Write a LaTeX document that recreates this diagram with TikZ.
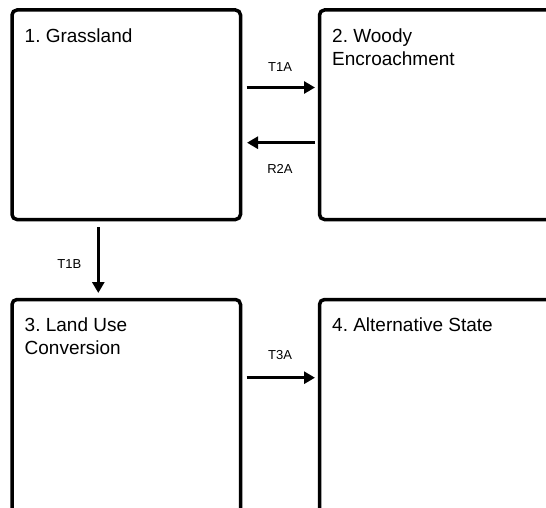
\documentclass[tikz,border=0pt]{standalone}
\usepackage{fontspec}
\setmainfont{Liberation Sans}
\usetikzlibrary{arrows.meta}

\tikzset{
  statebox/.style={draw, line width=3.5pt, rounded corners=5pt, outer sep=0pt,
    anchor=north west, minimum width=228.5pt},
  statename/.style={anchor=north west, align=left, inner sep=0pt,
    font=\fontsize{19}{23}\selectfont},
  trans/.style={line width=3.5pt, -{Triangle[length=11pt,width=12pt]}},
  translabel/.style={font=\fontsize{13}{15}\selectfont, inner sep=0pt},
}

\begin{document}
\frenchspacing
\begin{tikzpicture}[x=1pt,y=-1pt]
  \useasboundingbox (0,0) rectangle (546,508);
  \begin{scope}
    \clip (0,0) rectangle (546,508);
    % states
    \node[statebox, minimum height=209.5pt] (s1) at (12,10) {};
    \node[statebox, minimum width=260pt, minimum height=209.5pt] (s2) at (319.5,10) {};
    \node[statebox, minimum height=240pt] (s3) at (12,299.5) {};
    \node[statebox, minimum width=260pt, minimum height=240pt] (s4) at (319.5,299.5) {};
  \end{scope}

  \node[statename] (n1) at ([xshift=12.5pt,yshift=-18.5pt]s1.north west) {1. Grassland};
  \node[statename] (n2) at ([xshift=12.5pt,yshift=-18.5pt]s2.north west) {2. Woody\\Encroachment};
  \node[statename] (n3) at ([xshift=12.5pt,yshift=-18.5pt]s3.north west) {3. Land Use\\Conversion};
  \node[statename] (n4) at ([xshift=12.5pt,yshift=-18.5pt]s4.north west) {4. Alternative State};

  % transitions
  \draw[trans, shorten <=6pt, shorten >=4.5pt]
    ([yshift=-77.5pt]s1.north east) -- node[translabel, yshift=20pt] (l1) {T1A}
    ([yshift=-77.5pt]s2.north west);
  \draw[trans, shorten <=4.5pt, shorten >=6.5pt]
    ([yshift=-132.7pt]s2.north west) -- node[translabel, yshift=-26pt] (l2) {R2A}
    ([yshift=-132.7pt]s1.north east);
  \draw[trans, shorten <=7.5pt, shorten >=6.5pt]
    ([xshift=86.3pt]s1.south west) -- node[translabel, xshift=-29pt, yshift=-5pt] (l3) {T1B}
    ([xshift=86.3pt]s3.north west);
  \draw[trans, shorten <=6pt, shorten >=4.5pt]
    ([yshift=-78.2pt]s3.north east) -- node[translabel, yshift=22.4pt] (l4) {T3A}
    ([yshift=-78.2pt]s4.north west);
\end{tikzpicture}
\end{document}
